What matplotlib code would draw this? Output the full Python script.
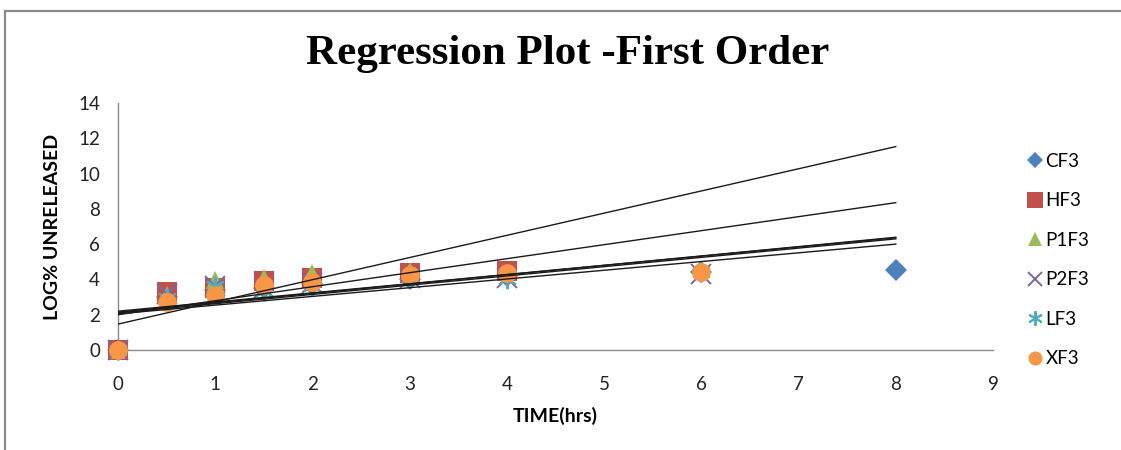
import numpy as np
import matplotlib
matplotlib.use('Agg')
import matplotlib.pyplot as plt
from matplotlib.lines import Line2D

plt.rcParams['font.family'] = ['Lato', 'DejaVu Sans']

# sampling times (hrs)
times = [0, 0.5, 1, 1.5, 2, 3, 4, 6, 8]

# log % unreleased for each formulation (series stop where the data stops)
cf3 = [0, 3.0, 3.4, 3.5, 3.75, 4.0, 4.2, 4.4, 4.53]
hf3 = [0, 3.3, 3.5, 3.9, 4.08, 4.37, 4.48]
p1f3 = [0, 3.1, 3.97, 4.08, 4.36, 4.5]
p2f3 = [0, 3.2, 3.65, 3.5, 3.8, 4.1, 4.1, 4.3]
lf3 = [0, 2.95, 3.6, 3.35, 3.65, 4.15, 4.05, 4.4]
xf3 = [0, 2.74, 3.1, 3.68, 3.87, 4.25, 4.36, 4.42]

names = ['CF3', 'HF3', 'P1F3', 'P2F3', 'LF3', 'XF3']
series = [cf3, hf3, p1f3, p2f3, lf3, xf3]

# linear trendlines (forecast to 8 h)
trend_intercept = [2.05, 2.0, 1.47, 2.2, 2.1, 2.15]
trend_slope = [0.494, 0.794, 1.2575, 0.52, 0.525, 0.53]

colors = ['#4F81BD', '#C0504D', '#9BBB59', '#8064A2', '#4BACC6', '#F79646']
markers = ['D', 's', '^', 'x', (6, 2, 0), 'o']
sizes = [11, 14.5, 13.5, 14, 14, 13.5]

fig = plt.figure(figsize=(11.21, 4.5), dpi=100)
ax = fig.add_axes([0.1053, 0.2222, 0.7805, 0.5489])

for name, ys, c, m, s in zip(names, series, colors, markers, sizes):
    xs = times[:len(ys)]
    mew = 1.4 if m in ('x', (6, 2, 0)) else 0
    ax.plot(xs, ys, ls='none', marker=m, ms=s, color=c, mec=c, mew=mew,
            label=name, clip_on=False, zorder=3)

tx = np.array([times[0], times[-1]])
for b, k in zip(trend_intercept, trend_slope):
    ax.plot(tx, b + k * tx, color='#1a1a1a', lw=1.0, zorder=4)

ax.set_xlim(0, 9)
ax.set_ylim(0, 14)
ax.set_xticks(range(0, 10))
ax.set_yticks(range(0, 15, 2))
ax.tick_params(length=0, labelsize=13.5, colors='#222222')
ax.tick_params(axis='x', pad=19)
ax.tick_params(axis='y', pad=13)
for sp in ['top', 'right']:
    ax.spines[sp].set_visible(False)
for sp in ['left', 'bottom']:
    ax.spines[sp].set_color('#8c8c8c')
    ax.spines[sp].set_linewidth(1.0)

ax.set_xlabel('TIME(hrs)', fontsize=14, fontweight='bold', labelpad=10)
ax.set_ylabel('LOG% UNRELEASED', fontsize=14, fontweight='bold', labelpad=12)

fig.text(0.506, 0.879, 'Regression Plot -First Order', ha='center', va='center',
         fontsize=31, fontweight='bold', family='Liberation Serif')

ax.legend(loc='center left', bbox_to_anchor=(0.9, 0.422), bbox_transform=fig.transFigure,
          frameon=False, fontsize=13.5, labelspacing=1.2, handletextpad=0.05,
          handlelength=1.0, markerscale=0.75)

# outer chart border
fig.add_artist(Line2D([5 / 1121, 5 / 1121], [0, 1 - 11 / 450], color='#8a8a8a', lw=1.6))
fig.add_artist(Line2D([5 / 1121, 1], [1 - 11 / 450, 1 - 11 / 450], color='#8a8a8a', lw=1.6))

fig.savefig('out.png', dpi=100)
